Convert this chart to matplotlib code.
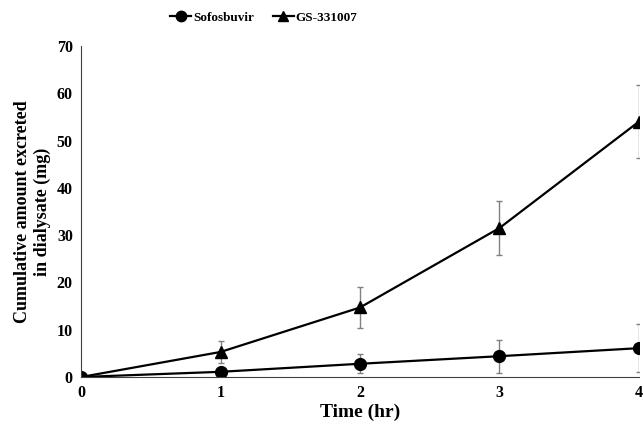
import matplotlib.pyplot as plt
from matplotlib.lines import Line2D

time_hr = [0, 1, 2, 3, 4]
sofosbuvir = [0, 1.1, 2.8, 4.4, 6.1]
sofosbuvir_err = [0, 0, 2.0, 3.5, 5.1]
gs331007 = [0, 5.3, 14.7, 31.5, 54.0]
gs331007_err = [0, 2.4, 4.4, 5.8, 7.7]
series_names = ["Sofosbuvir", "GS-331007"]

plt.rcParams["font.family"] = ["Liberation Serif", "DejaVu Serif"]
plt.rcParams["font.weight"] = "bold"

fig = plt.figure(figsize=(6.44, 4.26), dpi=100)
ax = fig.add_axes([0.126, 0.115, 0.866, 0.777])

ax.errorbar(time_hr, sofosbuvir, yerr=sofosbuvir_err, color="black", marker="o",
            ms=8.5, lw=1.6, ecolor="#808080", elinewidth=1, capsize=2.5)
ax.errorbar(time_hr, gs331007, yerr=gs331007_err, color="black", marker="^",
            ms=8.5, lw=1.6, ecolor="#808080", elinewidth=1, capsize=2.5)

ax.set_xlim(0, 4)
ax.set_ylim(0, 70)
ax.set_xticks(time_hr)
ax.set_yticks(range(0, 71, 10))
ax.tick_params(length=0, labelsize=11.5, pad=6)
for lab in ax.get_xticklabels() + ax.get_yticklabels():
    lab.set_fontweight("bold")
for s in ["top", "right"]:
    ax.spines[s].set_visible(False)
for s in ["left", "bottom"]:
    ax.spines[s].set_color("#404040")

ax.set_xlabel("Time (hr)", fontsize=14, fontweight="bold", labelpad=2)
ax.set_ylabel("Cumulative amount excreted\nin dialysate (mg)", fontsize=13,
              fontweight="bold", labelpad=4)

handles = [Line2D([], [], color="black", marker="o", ms=7.5, lw=1.6),
           Line2D([], [], color="black", marker="^", ms=7.5, lw=1.6)]
fig.legend(handles, series_names, loc="center", bbox_to_anchor=(264 / 644, 1 - 18 / 426),
           ncol=2, frameon=False, handlelength=1.6, handletextpad=0.15,
           columnspacing=1.4, prop={"weight": "bold", "size": 9.5})

fig.savefig("out.png", dpi=100)
